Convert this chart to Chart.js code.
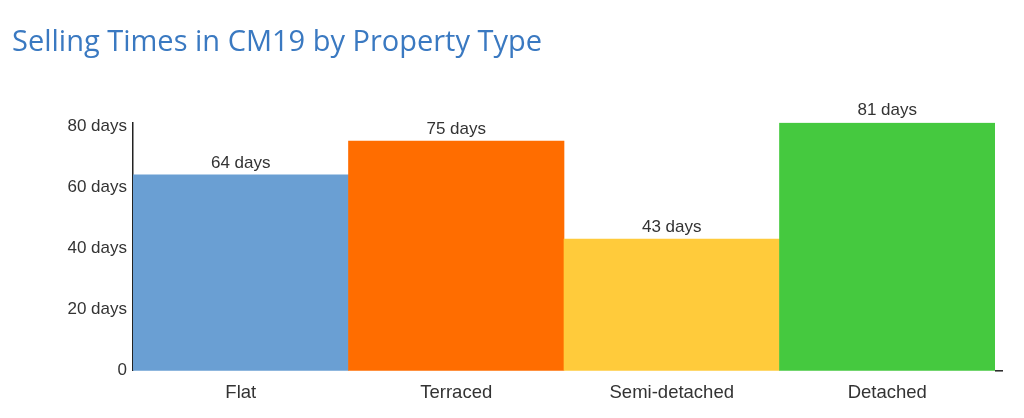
<!DOCTYPE html>
<html>
<head>
<meta charset="utf-8">
<script src="https://cdn.jsdelivr.net/npm/chart.js@4.4.0/dist/chart.umd.min.js"></script>
<style>
  html, body { margin: 0; padding: 0; background: #fff; }
  #wrap { width: 1024px; height: 418px; position: relative; }
</style>
</head>
<body>
<div id="wrap"><canvas id="chart"></canvas></div>
<script>
// chart data
const propertyTypes = ["Flat", "Terraced", "Semi-detached", "Detached"]
const sellingDays = [64, 75, 43, 81]
const barColors = ["#6a9fd3", "#ff6d00", "#ffcb3b", "#45c93f"]
const yTickValues = [0, 20, 40, 60, 80]

// value labels above each bar
const valueLabels = {
  id: "valueLabels",
  afterDatasetsDraw(chart) {
    const ctx = chart.ctx
    const meta = chart.getDatasetMeta(0)
    ctx.save()
    ctx.font = "17px 'Liberation Sans', Arial, sans-serif"
    ctx.fillStyle = "#333"
    ctx.textAlign = "center"
    ctx.textBaseline = "middle"
    meta.data.forEach((bar, i) => {
      ctx.fillText(sellingDays[i] + " days", bar.x, bar.y - 12)
    })
    ctx.restore()
  },
}

// small stub of the x axis past the last bar
const axisStub = {
  id: "axisStub",
  afterDraw(chart) {
    const { ctx, chartArea } = chart
    ctx.save()
    ctx.strokeStyle = "#222"
    ctx.lineWidth = 1.5
    ctx.beginPath()
    ctx.moveTo(chartArea.right, chartArea.bottom)
    ctx.lineTo(chartArea.right + 8, chartArea.bottom)
    ctx.stroke()
    ctx.restore()
  },
}

const ctx = document.getElementById("chart").getContext("2d")

new Chart(ctx, {
  type: "bar",
  data: {
    labels: propertyTypes,
    datasets: [
      {
        data: sellingDays,
        backgroundColor: barColors,
        borderWidth: 0,
        barPercentage: 1,
        categoryPercentage: 1,
      },
    ],
  },
  options: {
    responsive: true,
    maintainAspectRatio: false,
    animation: false,
    layout: {
      padding: { left: 12, right: 29, top: 0, bottom: 3 },
    },
    plugins: {
      legend: { display: false },
      tooltip: { enabled: false },
      title: {
        display: true,
        text: "Selling Times in CM19 by Property Type",
        align: "start",
        color: "#3a79c1",
        font: { family: "'Open Sans', sans-serif", size: 29, weight: "500", lineHeight: 1.2 },
        padding: { top: 25, bottom: 63 },
      },
    },
    scales: {
      x: {
        grid: { display: false, drawTicks: false },
        border: { display: false },
        ticks: {
          color: "#333",
          padding: 11,
          font: { family: "'Liberation Sans', Arial, sans-serif", size: 18.5 },
        },
      },
      y: {
        min: 0,
        max: 81,
        z: 1,
        grid: { display: false, drawTicks: false },
        border: { display: true, color: "#222", width: 1.5 },
        afterBuildTicks: (scale) => {
          scale.ticks = yTickValues.map((v) => ({ value: v }))
        },
        afterFit: (scale) => {
          scale.width = 121
        },
        ticks: {
          color: "#333",
          padding: 6,
          font: { family: "'Liberation Sans', Arial, sans-serif", size: 17 },
          callback: (v) => (v === 0 ? "0" : v + " days"),
        },
      },
    },
  },
  plugins: [valueLabels, axisStub],
})
</script>
</body>
</html>
